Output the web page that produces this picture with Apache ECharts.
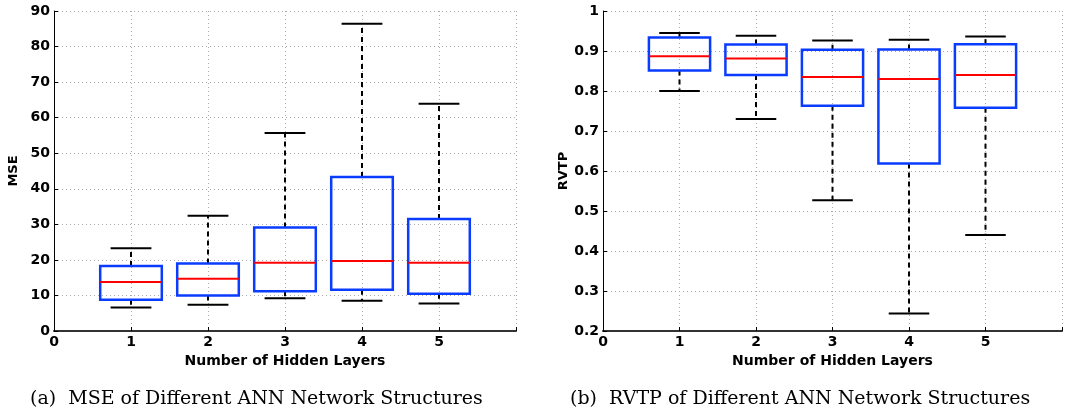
<!DOCTYPE html>
<html>
<head>
<meta charset="utf-8">
<script src="https://cdn.jsdelivr.net/npm/echarts@6/dist/echarts.min.js"></script>
<style>
  html, body { margin: 0; padding: 0; background: #fff; }
  #chart { width: 1066px; height: 414px; }
</style>
</head>
<body>
<div id="chart"></div>
<script>
// hidden layers on the x axis
const layers = [1, 2, 3, 4, 5]
const xTicks = [0, 1, 2, 3, 4, 5]

// (a) MSE boxes
const mseMin = [6.6, 7.4, 9.2, 8.5, 7.7]
const mseQ1 = [8.8, 10.0, 11.2, 11.6, 10.5]
const mseMedian = [13.8, 14.7, 19.2, 19.7, 19.2]
const mseQ3 = [18.3, 19.0, 29.1, 43.3, 31.5]
const mseMax = [23.3, 32.4, 55.7, 86.4, 63.9]

// (b) RVTP boxes
const rvtpMin = [0.80, 0.73, 0.527, 0.244, 0.44]
const rvtpQ1 = [0.851, 0.84, 0.763, 0.619, 0.758]
const rvtpMedian = [0.887, 0.881, 0.835, 0.83, 0.84]
const rvtpQ3 = [0.934, 0.916, 0.903, 0.904, 0.917]
const rvtpMax = [0.945, 0.938, 0.926, 0.928, 0.936]

const boxWidth = 0.8 // in x units
const capWidth = 0.53
const boxBlue = '#0a3cff'
const tickFont = 'DejaVu Sans'

function toRows(mins, q1s, meds, q3s, maxs) {
  return layers.map((x, i) => [x, mins[i], q1s[i], meds[i], q3s[i], maxs[i]])
}

function renderBox(params, api) {
  const x = api.value(0)
  const pMin = api.coord([x, api.value(1)])
  const pQ1 = api.coord([x, api.value(2)])
  const pMed = api.coord([x, api.value(3)])
  const pQ3 = api.coord([x, api.value(4)])
  const pMax = api.coord([x, api.value(5)])
  const cx = pMin[0]
  const bw = api.size([boxWidth, 0])[0]
  const cw = api.size([capWidth, 0])[0]
  const dashed = { stroke: '#000', lineWidth: 2, lineDash: [5, 4] }
  const solid = { stroke: '#000', lineWidth: 2 }
  return {
    type: 'group',
    children: [
      { type: 'line', shape: { x1: cx, y1: pQ3[1], x2: cx, y2: pMax[1] }, style: dashed },
      { type: 'line', shape: { x1: cx, y1: pQ1[1], x2: cx, y2: pMin[1] }, style: dashed },
      { type: 'line', shape: { x1: cx - cw / 2, y1: pMax[1], x2: cx + cw / 2, y2: pMax[1] }, style: solid },
      { type: 'line', shape: { x1: cx - cw / 2, y1: pMin[1], x2: cx + cw / 2, y2: pMin[1] }, style: solid },
      {
        type: 'rect',
        shape: { x: cx - bw / 2, y: pQ3[1], width: bw, height: pQ1[1] - pQ3[1] },
        style: { fill: 'none', stroke: boxBlue, lineWidth: 2.5 },
      },
      { type: 'line', shape: { x1: cx - bw / 2, y1: pMed[1], x2: cx + bw / 2, y2: pMed[1] }, style: { stroke: '#ff0000', lineWidth: 2 } },
    ],
  }
}

function makeXAxis(gridIndex) {
  return {
    type: 'value',
    gridIndex: gridIndex,
    min: 0,
    max: 6,
    interval: 1,
    name: 'Number of Hidden Layers',
    nameLocation: 'middle',
    nameGap: 15,
    nameTextStyle: { fontFamily: tickFont, fontWeight: 'bold', fontSize: 14, color: '#000' },
    axisLine: { lineStyle: { color: '#333', width: 2 } },
    axisTick: { inside: true, length: 4, lineStyle: { color: '#000' } },
    axisLabel: {
      margin: 4,
      fontFamily: tickFont,
      fontWeight: 'bold',
      fontSize: 14,
      color: '#000',
      formatter: (v) => (xTicks.indexOf(v) >= 0 ? String(v) : ''),
    },
    splitLine: { show: true, lineStyle: { color: '#aaa', type: [1, 3], width: 1 } },
  }
}

function makeYAxis(gridIndex, name, min, max, interval, gap, fmt) {
  return {
    type: 'value',
    gridIndex: gridIndex,
    min: min,
    max: max,
    interval: interval,
    name: name,
    nameLocation: 'middle',
    nameRotate: 90,
    nameGap: gap,
    nameTextStyle: { fontFamily: tickFont, fontWeight: 'bold', fontSize: 13, color: '#000' },
    axisLine: { show: true, lineStyle: { color: '#000', width: 1 } },
    axisTick: { show: true, inside: true, length: 4, lineStyle: { color: '#000' } },
    axisLabel: {
      margin: 4,
      fontFamily: tickFont,
      fontWeight: 'bold',
      fontSize: 14,
      color: '#000',
      formatter: fmt,
    },
    splitLine: { show: true, lineStyle: { color: '#aaa', type: [1, 3], width: 1 } },
  }
}

const captionStyle = { fontFamily: 'DejaVu Serif', fontWeight: 'normal', fontSize: 19, color: '#000' }

const option = {
  animation: false,
  backgroundColor: '#fff',
  title: [
    { text: '(a)  MSE of Different ANN Network Structures', left: 30, top: 390, padding: 0, textStyle: captionStyle },
    { text: '(b)  RVTP of Different ANN Network Structures', left: 570, top: 390, padding: 0, textStyle: captionStyle },
  ],
  grid: [
    { left: 54, right: 550, top: 11, bottom: 83 },
    { left: 603, right: 4, top: 11, bottom: 83 },
  ],
  xAxis: [makeXAxis(0), makeXAxis(1)],
  yAxis: [
    makeYAxis(0, 'MSE', 0, 90, 10, 34, (v) => String(v)),
    makeYAxis(1, 'RVTP', 0.2, 1, 0.1, 33, (v) => String(+v.toFixed(1))),
  ],
  series: [
    {
      type: 'custom',
      xAxisIndex: 0,
      yAxisIndex: 0,
      renderItem: renderBox,
      encode: { x: 0, y: [1, 2, 3, 4, 5] },
      data: toRows(mseMin, mseQ1, mseMedian, mseQ3, mseMax),
      z: 5,
    },
    {
      type: 'custom',
      xAxisIndex: 1,
      yAxisIndex: 1,
      renderItem: renderBox,
      encode: { x: 0, y: [1, 2, 3, 4, 5] },
      data: toRows(rvtpMin, rvtpQ1, rvtpMedian, rvtpQ3, rvtpMax),
      z: 5,
    },
  ],
}

const myChart = echarts.init(document.getElementById('chart'))
myChart.setOption(option)
</script>
</body>
</html>
